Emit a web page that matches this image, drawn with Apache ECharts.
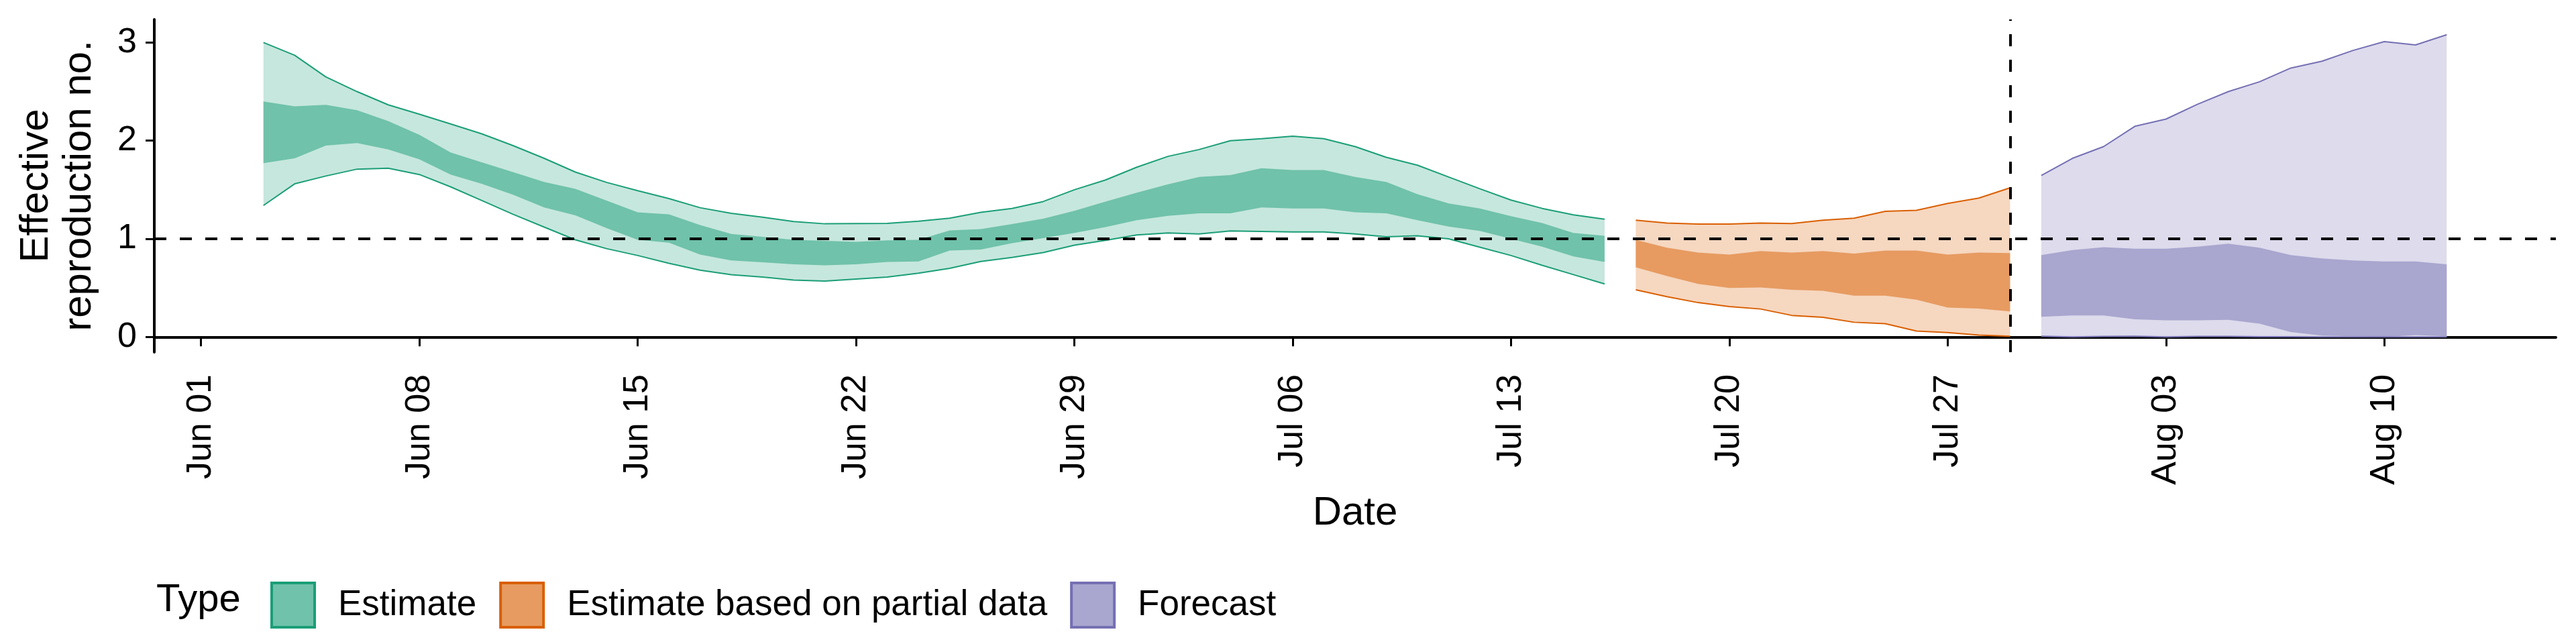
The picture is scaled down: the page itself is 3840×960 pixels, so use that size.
<!DOCTYPE html>
<html><head><meta charset="utf-8">
<script src="https://cdn.jsdelivr.net/npm/echarts@6/dist/echarts.min.js"></script>
<style>html,body{margin:0;padding:0;background:#fff}#c{width:3840px;height:960px}</style>
</head><body><div id="c"></div>
<script>
// ---- data ----
const estimateStart = '2020-06-03';
const estimateUpper90 = [3.00,2.87,2.65,2.50,2.365,2.27,2.17,2.07,1.95,1.82,1.68,1.575,1.49,1.41,1.317,1.26,1.22,1.176,1.153,1.155,1.157,1.18,1.21,1.27,1.31,1.38,1.50,1.60,1.73,1.84,1.91,2.00,2.02,2.045,2.02,1.94,1.83,1.75,1.63,1.51,1.395,1.31,1.245,1.20];
const estimateUpper50 = [2.40,2.35,2.365,2.31,2.20,2.06,1.88,1.78,1.68,1.58,1.51,1.39,1.27,1.25,1.14,1.05,1.02,0.99,0.98,0.97,0.985,0.99,1.085,1.10,1.15,1.205,1.285,1.38,1.47,1.555,1.63,1.65,1.72,1.70,1.70,1.63,1.58,1.455,1.36,1.31,1.23,1.16,1.06,1.03];
const estimateLower50 = [1.77,1.82,1.95,1.975,1.91,1.81,1.655,1.56,1.45,1.32,1.24,1.11,0.99,0.96,0.84,0.78,0.76,0.74,0.73,0.74,0.765,0.77,0.88,0.89,0.955,1.007,1.06,1.12,1.19,1.235,1.26,1.26,1.32,1.31,1.31,1.27,1.26,1.19,1.125,1.08,1.00,0.92,0.82,0.765];
const estimateLower90 = [1.34,1.56,1.64,1.71,1.72,1.655,1.53,1.39,1.25,1.12,0.99,0.90,0.83,0.75,0.68,0.635,0.61,0.58,0.57,0.59,0.61,0.65,0.70,0.77,0.81,0.86,0.935,0.985,1.04,1.06,1.05,1.08,1.075,1.07,1.07,1.05,1.02,1.03,1.00,0.915,0.83,0.73,0.635,0.54];

const partialStart = '2020-07-17';
const partialUpper90 = [1.19,1.16,1.15,1.15,1.16,1.155,1.19,1.21,1.28,1.29,1.36,1.415,1.52];
const partialUpper50 = [0.99,0.91,0.86,0.84,0.875,0.86,0.875,0.85,0.88,0.88,0.84,0.86,0.855];
const partialLower50 = [0.71,0.62,0.54,0.50,0.505,0.48,0.47,0.42,0.42,0.38,0.30,0.29,0.26];
const partialLower90 = [0.48,0.41,0.35,0.31,0.285,0.22,0.20,0.15,0.135,0.06,0.045,0.02,0.007];

const forecastStart = '2020-07-30';
const forecastUpper90 = [1.645,1.82,1.94,2.146,2.22,2.37,2.50,2.60,2.74,2.81,2.92,3.01,2.975,3.08];
const forecastUpper50 = [0.835,0.885,0.915,0.90,0.90,0.92,0.95,0.91,0.835,0.80,0.78,0.77,0.77,0.74];
const forecastLower50 = [0.205,0.22,0.22,0.18,0.17,0.17,0.175,0.135,0.05,0.015,0.007,0.0,0.02,0.007];
const forecastLower90 = [0.007,0.0,0.005,0.007,0.0,0.005,0.005,0.002,0.002,0.0,0.0,0.0,0.0,0.0];

const typeNames = ['Estimate','Estimate based on partial data','Forecast'];
const xTickDates = ['2020-06-01','2020-06-08','2020-06-15','2020-06-22','2020-06-29','2020-07-06','2020-07-13','2020-07-20','2020-07-27','2020-08-03','2020-08-10'];
const xTickLabels = ['Jun 01','Jun 08','Jun 15','Jun 22','Jun 29','Jul 06','Jul 13','Jul 20','Jul 27','Aug 03','Aug 10'];
const yTicks = [0,1,2,3];
const refValue = 1;
const lastDataDate = '2020-07-29';

// ---- helpers ----
const DAY = 86400000;
const ms = s => Date.parse(s + 'T00:00:00Z');
const xTickMs = xTickDates.map(ms);
const origin = ms('2020-06-01');

const FONT = 'Liberation Sans, Arial, Helvetica, sans-serif';
const palette = [
  {line:'#1b9e77', light:'#c6e7dd', dark:'#70c2aa'},
  {line:'#d95f02', light:'#f6d7c0', dark:'#e79b61'},
  {line:'#7570b3', light:'#dddbec', dark:'#a9a6cf'}
];

const groups = [
  {start: estimateStart, u90: estimateUpper90, u50: estimateUpper50, l50: estimateLower50, l90: estimateLower90},
  {start: partialStart, u90: partialUpper90, u50: partialUpper50, l50: partialLower50, l90: partialLower90},
  {start: forecastStart, u90: forecastUpper90, u50: forecastUpper50, l50: forecastLower50, l90: forecastLower90}
];

// ribbon drawn as one polygon through the axes' scales
function ribbon(name, rows, fill, z) {
  return {
    type:'custom', name: name, data: rows, encode:{x:0, y:[1,2]}, z: z, silent:true,
    itemStyle:{color: fill},
    renderItem: (params, api) => {
      if (params.dataIndex !== 0) return null;
      const top = rows.map(r => api.coord([r[0], r[2]]));
      const bot = rows.map(r => api.coord([r[0], r[1]])).reverse();
      return {type:'polygon', shape:{points: top.concat(bot)}, style:{fill: fill, stroke: null}};
    }
  };
}

const series = [];
groups.forEach((g, gi) => {
  const t0 = ms(g.start);
  const xs = g.u90.map((_, i) => t0 + i * DAY);
  const pal = palette[gi];
  series.push(ribbon('_r90_'+gi, xs.map((x,i)=>[x, g.l90[i], g.u90[i]]), pal.light, 1));
  series.push(ribbon(typeNames[gi], xs.map((x,i)=>[x, g.l50[i], g.u50[i]]), pal.dark, 2));
  series.push({type:'line', name:'_u_'+gi, data: xs.map((x,i)=>[x, g.u90[i]]), symbol:'none', lineStyle:{color:pal.line, width:2}, silent:true, z:3});
  series.push({type:'line', name:'_l_'+gi, data: xs.map((x,i)=>[x, g.l90[i]]), symbol:'none', lineStyle:{color:pal.line, width:2}, silent:true, z:3});
});

series.push({
  type:'line', name:'_ref', data:[], z:10, silent:true,
  markLine:{
    silent:true, symbol:['none','none'], label:{show:false}, animation:false,
    lineStyle:{color:'#000', width:4, type:[18,20]},
    data:[{yAxis: refValue}, {xAxis: ms(lastDataDate)}]
  }
});

const chart = echarts.init(document.getElementById('c'), null, {renderer:'canvas'});
chart.setOption({
  animation:false,
  backgroundColor:'#fff',
  textStyle:{fontFamily: FONT},
  grid:{left:230, right:30, top:29, bottom:435, containLabel:false, outerBoundsMode:'none'},
  xAxis:{
    type:'value',
    min: origin - 1.5*DAY, max: origin + 75.5*DAY,
    axisLine:{show:true, lineStyle:{color:'#000', width:4}},
    axisTick:{show:true, customValues: xTickMs, length:14, lineStyle:{color:'#000', width:3}},
    axisLabel:{customValues: xTickMs, rotate:90, margin:33, fontSize:52, color:'#000', fontFamily:FONT,
      formatter: v => { const i = xTickMs.indexOf(v); return i >= 0 ? xTickLabels[i] : ''; }},
    splitLine:{show:false},
    name:'Date', nameLocation:'middle', nameGap:210,
    nameTextStyle:{fontSize:60, color:'#000', fontFamily:FONT}
  },
  yAxis:{
    type:'value', min:-0.155, max:3.235,
    axisLine:{show:true, lineStyle:{color:'#000', width:4}},
    axisTick:{show:true, customValues: yTicks, length:13, lineStyle:{color:'#000', width:3}},
    axisLabel:{customValues: yTicks, margin:26, fontSize:52, color:'#000', fontFamily:FONT},
    splitLine:{show:false},
    name:'Effective\nreproduction no.', nameLocation:'middle', nameGap:80,
    nameTextStyle:{fontSize:60, lineHeight:64, color:'#000', fontFamily:FONT}
  },
  legend:{
    show:true, orient:'horizontal', left:398, top:862,
    itemWidth:64, itemHeight:66, itemGap:34, icon:'rect',
    selectedMode:false,
    textStyle:{fontSize:53, color:'#000', fontFamily:FONT, padding:[0,0,0,30]},
    data: typeNames.map((n, i) => ({name:n, icon:'rect', itemStyle:{color:palette[i].dark, borderColor:palette[i].line, borderWidth:4}}))
  },
  graphic:[{type:'text', x:233, y:895, silent:true,
    style:{text:'Type', fontSize:58, fontFamily:FONT, fill:'#000', verticalAlign:'middle', align:'left'}}],
  series: series
});
</script>
</body></html>
